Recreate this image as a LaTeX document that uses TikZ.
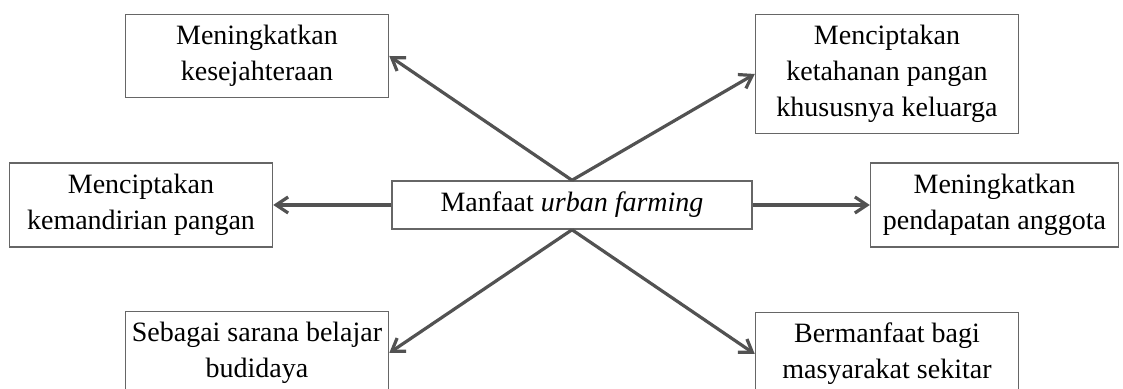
\documentclass[tikz,border=0pt]{standalone}
\usepackage{fontspec}
\setmainfont{Liberation Serif}
\usetikzlibrary{arrows.meta,positioning}

\tikzset{
  box/.style={draw=black!60, line width=0.75pt, align=center, inner sep=2pt,
    minimum width=131.5pt, minimum height=41.5pt,
    font=\fontsize{14pt}{18pt}\selectfont},
  link/.style={draw=black!68, line width=1.6pt,
    -{Straight Barb[length=6pt,width=8pt,line width=1.6pt]}}
}

\begin{document}
\begin{tikzpicture}
  \clip (0,0) rectangle (561.5pt,194.5pt);
  \useasboundingbox (0,0) rectangle (561.5pt,194.5pt);

  \node[box, minimum width=180pt, minimum height=24pt] (manfaat) at (286pt,92pt) {Manfaat \textit{urban farming}};

  \node[box] (sejahtera) [above left=41pt and 1pt of manfaat] {Meningkatkan\\kesejahteraan};
  \node[box, minimum height=59.5pt] (ketahanan) [above right=23pt and 1pt of manfaat] {Menciptakan\\ketahanan pangan\\khususnya keluarga};
  \node[box, minimum height=42pt] (mandiri) [left=59pt of manfaat] {Menciptakan\\kemandirian pangan};
  \node[box, minimum width=124pt, minimum height=42pt] (pendapatan) [right=58.5pt of manfaat] {Meningkatkan\\pendapatan anggota};
  \node[box] (belajar) [below left=40.5pt and 1pt of manfaat] {Sebagai sarana belajar\\budidaya};
  \node[box] (sekitar) [below right=41pt and 1pt of manfaat] {Bermanfaat bagi\\masyarakat sekitar};

  \path[link] (manfaat.north) -- (sejahtera.east);
  \path[link] (manfaat.north) -- (ketahanan.west);
  \path[link] (manfaat.west) -- (mandiri.east);
  \path[link] (manfaat.east) -- (pendapatan.west);
  \path[link] (manfaat.south) -- (belajar.east);
  \path[link] (manfaat.south) -- (sekitar.west);
\end{tikzpicture}
\end{document}
